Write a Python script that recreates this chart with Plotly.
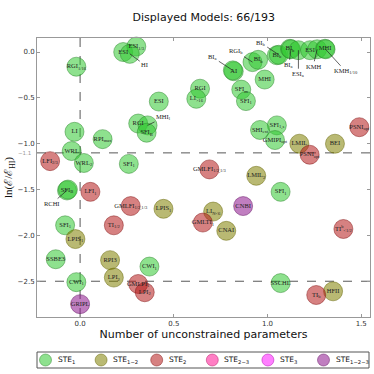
import plotly.graph_objects as go

# ---------------- data ----------------
model_labels = [
    "ESI", "ESI<sub>1/3</sub>", "", "RGI<sub>1/16</sub>", "ESI", "RGI", "LI<sub>&gt;16</sub>", "RGI", "",
    "SFI<sub>B</sub>", "LI", "RPI<sub>max</sub>", "WRL", "WRL<sub>2</sub>", "SFI<sub>1</sub>", "SFI<sub>B</sub>", "",
    "SFI<sub>1</sub>", "SSBE3", "CWI<sub>1</sub>", "CWI<sub>1</sub>", "SFI<sub>1</sub>", "SSCHL",
    "SFI<sub>1,s</sub>", "SHI<sub>ext</sub>", "GMIPI<sub>opt</sub>", "SFI<sub>m</sub>", "SFI<sub>1</sub>", "MHI",
    "AI", "", "", "BI<sub>b</sub>", "BI<sub>b</sub>", "", "BI<sub>b</sub>", "", "", "ESI", "", "MHI", "",
    "LPIS<sub>1</sub>", "RPI3", "LPI<sub>2</sub>", "LPIS<sub>1</sub>", "LMIL<sub>2</sub>", "LI<sub>N&lt;6</sub>",
    "CNAI", "HFII", "LMIL", "BEI",
    "LFI<sub>2/3</sub>", "LFI<sub>1</sub>", "TI<sub>1/2</sub>", "GMLFI<sub>1/2,1/3</sub>", "GMLPI<sub>1</sub>",
    "LPI<sub>2</sub>", "GMLFI<sub>1/2,1/3</sub>", "GMLTI<sub>1</sub>", "TI<sup>b</sup><sub>&lt;1/2</sub>",
    "TI<sub>b</sub>", "PSNI<sub>opt</sub>", "PSNI<sub>opt</sub>",
    "GRIPL", "CNBI",
]
n_params = [
    0.23, 0.30, 0.265, -0.02, 0.42, 0.64, 0.62, 0.31, 0.36,
    0.355, -0.03, 0.12, -0.045, 0.02, 0.26, -0.07, -0.065,
    -0.08, -0.13, -0.02, 0.37, 1.07, 1.07,
    1.05, 0.96, 1.04, 0.86, 0.885, 0.985,
    0.82, 0.815, 0.92, 0.95, 1.05, 1.06, 1.12, 1.125, 1.165, 1.227, 1.265, 1.307, 1.31,
    -0.025, 0.16, 0.18, 0.445, 0.94, 0.71,
    0.78, 1.35, 1.17, 1.36,
    -0.16, 0.055, 0.18, 0.27, 0.31,
    0.345, 0.69, 0.655, 1.405,
    1.26, 1.49, 1.225,
    0.0, 0.87,
]
ln_evidence = [
    0.00, 0.06, -0.02, -0.16, -0.54, -0.40, -0.51, -0.78, -0.80,
    -0.88, -0.87, -0.95, -1.08, -1.21, -1.22, -1.51, -1.50,
    -1.89, -2.26, -2.51, -2.34, -1.525, -2.52,
    -0.80, -0.85, -0.96, -0.41, -0.535, -0.30,
    -0.21, -0.20, -0.11, -0.085, -0.035, -0.03, 0.035, 0.03, 0.02, 0.02, 0.03, 0.036, 0.03,
    -2.04, -2.27, -2.46, -1.71, -1.35, -1.74,
    -1.95, -2.61, -1.00, -1.00,
    -1.19, -1.525, -1.89, -1.68, -2.53,
    -2.62, -1.28, -1.86, -1.93,
    -2.65, -0.82, -1.12,
    -2.75, -1.68,
]
ste_class = (["STE1"] * 42 + ["STE12"] * 10 + ["STE2"] * 12 + ["STE123"] * 2)

# callout labels: (model index, text)
callout_idx = [2, 8, 16, 30, 31, 34, 36, 37, 39, 41]
callout_text = ["HI", "MHI<sub>l</sub>", "RCHI", "BI<sub>a</sub>", "RGI<sub>b</sub>", "BI<sub>b</sub>",
                "BI<sub>a</sub>", "ESI<sub>a</sub>", "KMH", "KMH<sub>1/10</sub>"]

classes = ["STE1", "STE12", "STE2", "STE23", "STE3", "STE123"]
class_names = ["STE<sub>1</sub>", "STE<sub>1−2</sub>", "STE<sub>2</sub>", "STE<sub>2−3</sub>",
               "STE<sub>3</sub>", "STE<sub>1−2−3</sub>"]
thresholds_y = [-1.1, -2.5]
threshold_x = [0.0]
x_ticks = [0.0, 0.5, 1.0, 1.5]
y_ticks = [0.0, -0.5, -1.0, -1.5, -2.0, -2.5]
title_text = "Displayed Models: 66/193"

# ---------------- style ----------------
W = H = 374
ML, MR, MT, MB = 37, 4, 38, 57
PW, PH = W - ML - MR, H - MT - MB

fill = {"STE1": "rgba(50,200,50,0.55)", "STE12": "rgba(128,128,0,0.55)", "STE2": "rgba(180,25,25,0.55)",
        "STE23": "rgba(255,20,147,0.55)", "STE3": "rgba(255,0,255,0.5)", "STE123": "rgba(140,20,140,0.55)"}
edge = {"STE1": "rgba(40,130,40,0.6)", "STE12": "rgba(100,100,0,0.6)", "STE2": "rgba(130,20,20,0.6)",
        "STE23": "rgba(180,20,100,0.6)", "STE3": "rgba(180,0,180,0.6)", "STE123": "rgba(100,20,100,0.6)"}
callout_offsets = {2: (15, 11), 8: (16, -8), 16: (-16, 14), 30: (-20, -13), 31: (-17, -11), 34: (-18, -12),
                   36: (-2, 16), 37: (0, 24), 39: (-4, 17), 41: (20, 22)}
serif = "Liberation Serif"
sans = "DejaVu Sans"

fig = go.Figure()
for c, nm in zip(classes, class_names):
    idx = [i for i, s in enumerate(ste_class) if s == c]
    if not idx:
        continue
    fig.add_trace(go.Scatter(
        x=[n_params[i] for i in idx], y=[ln_evidence[i] for i in idx],
        text=[model_labels[i] for i in idx], mode="markers+text", name=nm,
        textposition="middle center",
        textfont=dict(family=serif, size=6.5, color="#222"),
        marker=dict(size=19, color=fill[c], line=dict(color=edge[c], width=0.8)),
        hoverinfo="skip", cliponaxis=False, showlegend=False,
    ))

for i, t in zip(callout_idx, callout_text):
    ax, ay = callout_offsets[i]
    fig.add_annotation(x=n_params[i], y=ln_evidence[i], text=t, ax=ax, ay=ay, showarrow=True,
                       arrowhead=0, arrowwidth=0.7, arrowcolor="#222", standoff=0,
                       font=dict(family=serif, size=6.5, color="#222"))

for yv in thresholds_y:
    fig.add_shape(type="line", xref="paper", x0=0, x1=1, y0=yv, y1=yv,
                  line=dict(color="#444", width=0.9, dash="dash"), layer="below")
    if yv not in y_ticks:
        fig.add_annotation(xref="paper", x=0, y=yv, text=f"{yv:.1f}".replace("-", "−"), showarrow=False,
                           xanchor="right", xshift=-4, font=dict(family=sans, size=5.5, color="#999"))
for xv in threshold_x:
    fig.add_shape(type="line", yref="paper", y0=0, y1=1, x0=xv, x1=xv,
                  line=dict(color="#444", width=0.9, dash="dash"), layer="below")

# ---- legend box (drawn below the plot, in paper coordinates) ----
def px_x(p):
    return (p - ML) / PW

def px_y(p):
    return (H - MB - p) / PH

leg_left, leg_right, leg_top, leg_bot = 37, 369, 352, 368
leg_y = (leg_top + leg_bot) / 2
fig.add_shape(type="rect", xref="paper", yref="paper", x0=px_x(leg_left), x1=px_x(leg_right),
              y0=px_y(leg_bot), y1=px_y(leg_top), line=dict(color="#555", width=1),
              fillcolor="white")
leg_step = 55.6
for k, (c, nm) in enumerate(zip(classes, class_names)):
    mx = 45.5 + k * leg_step
    fig.add_shape(type="circle", xref="paper", yref="paper", xsizemode="pixel", ysizemode="pixel",
                  xanchor=px_x(mx), yanchor=px_y(leg_y), x0=-6, x1=6, y0=-6, y1=6,
                  fillcolor=fill[c], line=dict(color=edge[c], width=0.8))
    fig.add_annotation(xref="paper", yref="paper", x=px_x(mx + 10), y=px_y(leg_y), text=nm,
                       showarrow=False, xanchor="left", yanchor="middle",
                       font=dict(family=sans, size=7.5, color="#111"))

axis_common = dict(showgrid=False, zeroline=False, showline=True, linecolor="#999", linewidth=1,
                   mirror="ticks", ticks="inside", ticklen=3, tickcolor="#999", automargin=False,
                   tickfont=dict(family=sans, size=7, color="#333"), tickformat=".1f")

fig.update_layout(
    width=W, height=H,
    margin=dict(l=ML, r=MR, t=MT, b=MB, autoexpand=False),
    paper_bgcolor="white", plot_bgcolor="white",
    title=dict(text=title_text, x=0.545, xanchor="center", y=1 - 17 / H, yanchor="middle",
               font=dict(family=sans, size=11, color="#111")),
    xaxis=dict(range=[-0.23, 1.547], tickvals=x_ticks,
               title=dict(text="Number of unconstrained parameters", standoff=0,
                          font=dict(family=sans, size=11, color="#111")), **axis_common),
    yaxis=dict(range=[-2.89, 0.153], tickvals=y_ticks,
               title=dict(text="ln(ℰ/ℰ<sub>HI</sub>)", standoff=2,
                          font=dict(family=serif, size=11, color="#111")), **axis_common),
    showlegend=False,
)

fig.write_html("out.html", config={"displayModeBar": False},
               post_script="document.body.style.margin='0';document.body.style.overflow='hidden';")
